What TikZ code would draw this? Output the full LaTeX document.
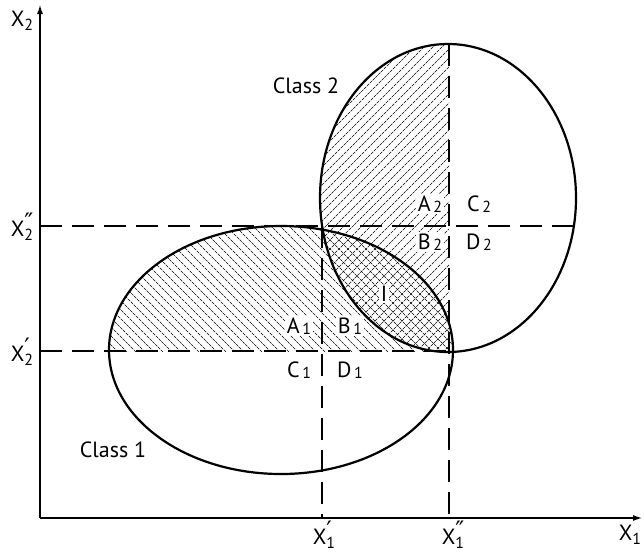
\documentclass[tikz,border=0pt]{standalone}
\usepackage{fontspec}
\usetikzlibrary{arrows.meta}
\setmainfont{PT Sans}
\newfontfamily\djv{DejaVu Sans}
\newcommand\lab[3]{#1\rlap{\raisebox{0.55ex}{\djv\fontsize{24}{24}\selectfont #3}}\raisebox{-0.4ex}{\fontsize{16}{16}\selectfont #2}}
\newcommand\reg[2]{#1\raisebox{-0.1ex}{\fontsize{16}{16}\selectfont\,#2}}
\begin{document}
\begin{tikzpicture}[x=1pt,y=-1pt,
  axis/.style={line width=2pt,-{Latex[length=10pt,width=6pt]}},
  guide/.style={line width=1.1pt,dash pattern=on 22pt off 10pt},
  boundary/.style={line width=2.2pt},
  hatch/.style={line width=0.6pt,dash pattern=on 3pt off 1pt},
  txt/.style={font=\fontsize{22}{24}\selectfont,inner sep=1pt},
  reglab/.style={txt,fill=white,inner sep=1.5pt}]
\useasboundingbox (0,0) rectangle (644,552);
% hatching class 1 (upper half)
\begin{scope}
  \clip (281,350) ellipse [x radius=172pt, y radius=124pt];
  \clip (100,210) rectangle (460,351);
  \foreach \k in {-160,-151,...,470} \draw[hatch] (\k,200) -- ++(200,200);
\end{scope}
% hatching class 2 (left half)
\begin{scope}
  \clip (448,198) ellipse [x radius=128pt, y radius=154pt];
  \clip (300,30) rectangle (449,360);
  \foreach \k in {-100,-91,...,470} \draw[hatch] (\k,400) -- ++(400,-400);
\end{scope}
% guides
\coordinate (O) at (40,518);
\coordinate (ytop) at (40,4);
\coordinate (xend) at (643,518);
\coordinate (h2a) at (40,226);
\coordinate (h2b) at (576,226);
\coordinate (h1a) at (40,351);
\coordinate (h1b) at (453,351);
\coordinate (v1a) at (322,226);
\coordinate (v1b) at (322,518);
\coordinate (v2a) at (449,44);
\coordinate (v2b) at (449,518);
\draw[guide] (h2a) -- (h2b);
\draw[guide] (h1a) -- (h1b);
\draw[guide] (v1a) -- (v1b);
\draw[guide] (v2a) -- (v2b);
% ellipses
\draw[boundary] (281,350) ellipse [x radius=172pt, y radius=124pt];
\draw[boundary] (448,198) ellipse [x radius=128pt, y radius=154pt];
% axes
\draw[axis] (O) -- (ytop);
\draw[axis] (O) -- (xend);
% axis labels
\node[txt] (lx2) at (22,21) {\lab{X}{2}{}};
\node[txt] (lx2pp) at (22,227) {\lab{X}{2}{″}};
\node[txt] (lx2p) at (22,352) {\lab{X}{2}{′}};
\node[txt] (lx1p) at (324,535) {\lab{X}{1}{′}};
\node[txt] (lx1pp) at (453,535) {\lab{X}{1}{″}};
\node[txt] (lx1) at (630,535) {\lab{X}{1}{}};
% class labels
\node[txt] (c2) at (306,86) {Class 2};
\node[txt] (c1) at (113,450) {Class 1};
% region labels
\node[reglab] (A2) at (430,204) {\reg{A}{2}};
\node[txt] (C2) at (479,204) {\reg{C}{2}};
\node[reglab] (B2) at (430,242) {\reg{B}{2}};
\node[txt] (D2) at (479,242) {\reg{D}{2}};
\node[reglab] (I) at (384,294) {I};
\node[reglab] (A1) at (299,326) {\reg{A}{1}};
\node[reglab] (B1) at (350,326) {\reg{B}{1}};
\node[txt] (C1) at (299,370) {\reg{C}{1}};
\node[txt] (D1) at (350,370) {\reg{D}{1}};
\end{tikzpicture}
\end{document}
